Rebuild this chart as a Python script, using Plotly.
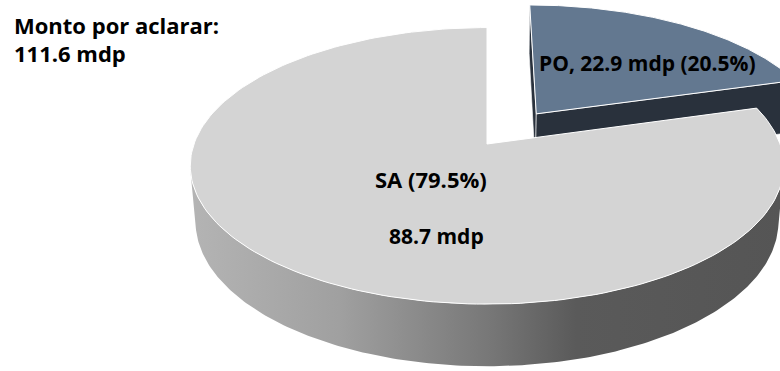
import numpy as np
import plotly.graph_objects as go

# ---- data ----
categories = ["PO", "SA"]
values = [22.9, 88.7]
unit = "mdp"
title_lines = ["Monto por aclarar:", "111.6 mdp"]

total = sum(values)
shares = [v / total for v in values]

# ---- 3D pie geometry (layout parameters) ----
W, H = 780, 371
CX, CY = 487.0, 144.0          # screen position of pie centre
PHI = np.radians(27.4)          # elevation
DIST = 5.62                     # camera distance (in radii)
FOC = 293.0 * DIST              # focal length in px
THICK = 0.216                   # thickness (radii)
EXPLODE = 0.29                  # explode distance for first slice
START = 90.0                    # first slice starts at 12 o'clock, clockwise

cphi, sphi = np.cos(PHI), np.sin(PHI)


def proj(X, Y, Z):
    X, Y, Z = np.asarray(X, float), np.asarray(Y, float), np.asarray(Z, float)
    vx = X
    vy = Y + DIST * cphi
    vz = Z - DIST * sphi
    zc = vy * cphi - vz * sphi
    yc = vy * sphi + vz * cphi
    return CX + FOC * vx / zc, CY - FOC * yc / zc


def arc(a0, a1, n=200):
    return np.radians(np.linspace(a0, a1, n))


# slice angle ranges (standard math degrees, going clockwise from 12 o'clock)
ranges = []
a = START
for s in shares:
    ranges.append((a - 360 * s, a))
    a -= 360 * s

fig = go.Figure()


def add_poly(xs, ys, color, line_color=None, lw=0, grad=None):
    kw = dict(x=np.append(xs, xs[0]), y=np.append(ys, ys[0]), mode="lines",
              fill="toself", hoverinfo="skip", showlegend=False,
              line=dict(width=lw, color=line_color or color))
    if grad is not None:
        kw["fillgradient"] = grad
    else:
        kw["fillcolor"] = color
    fig.add_trace(go.Scatter(**kw))


PO_TOP = "#637890"
PO_SIDE = "#29313c"
SA_TOP = "#d4d4d4"

# ---- PO (exploded) ----
lo, hi = ranges[0]
mid = np.radians((lo + hi) / 2)
ox, oy = EXPLODE * np.cos(mid), EXPLODE * np.sin(mid)
for ang in (hi, lo):
    t = np.radians(ang)
    X = [ox, ox + np.cos(t), ox + np.cos(t), ox]
    Y = [oy, oy + np.sin(t), oy + np.sin(t), oy]
    Z = [0, 0, -THICK, -THICK]
    sx, sy = proj(X, Y, Z)
    add_poly(sx, sy, PO_SIDE, "white", 0.6)
th = arc(lo, hi)
X = np.concatenate([[ox], ox + np.cos(th)])
Y = np.concatenate([[oy], oy + np.sin(th)])
sx, sy = proj(X, Y, np.zeros_like(X))
add_poly(sx, sy, PO_TOP, "white", 1)

# ---- SA ----
lo, hi = ranges[1]
hi += 360
alpha = np.degrees(np.arcsin(1.0 / (DIST * cphi)))
w0, w1 = 180 + alpha, min(360 - alpha, hi)
tw = arc(w0, w1)
tx, ty = proj(np.cos(tw), np.sin(tw), np.zeros_like(tw))
bx, by = proj(np.cos(tw), np.sin(tw), np.full_like(tw, -THICK))
wx = np.concatenate([tx, bx[::-1]])
wy = np.concatenate([ty, by[::-1]])
grad = dict(type="horizontal",
            colorscale=[[0.0, "#b4b4b4"], [0.25, "#a0a0a0"], [0.5, "#787878"],
                        [0.65, "#5a5a5a"], [1.0, "#555555"]])
add_poly(wx, wy, "#888888", grad=grad)

th = arc(90, 90 + 360 * shares[1])
X = np.concatenate([[0], np.cos(th)])
Y = np.concatenate([[0], np.sin(th)])
sx, sy = proj(X, Y, np.zeros_like(X))
add_poly(sx, sy, SA_TOP, "white", 1)

# ---- text ----
FONT = "Open Sans"
anns = [
    dict(x=12, y=24.5, text=f"<b>{title_lines[0]}</b>", xanchor="left", size=22),
    dict(x=12, y=52.5, text=f"<b>{title_lines[1]}</b>", xanchor="left", size=22),
    dict(x=647, y=62.5,
         text=f"<b>{categories[0]}, {values[0]:.1f} {unit} ({shares[0]*100:.1f}%)</b>",
         xanchor="center", size=21),
    dict(x=431, y=178.5, text=f"<b>{categories[1]} ({shares[1]*100:.1f}%)</b>",
         xanchor="center", size=22),
    dict(x=436, y=236, text=f"<b>{values[1]:.1f} {unit}</b>", xanchor="center",
         size=21),
]
for an in anns:
    size = an.pop("size")
    fig.add_annotation(xref="x", yref="y", yanchor="middle", showarrow=False,
                       font=dict(family=FONT, size=size, color="black"), **an)

fig.update_layout(
    width=W, height=H, margin=dict(l=0, r=0, t=0, b=0),
    paper_bgcolor="white", plot_bgcolor="white",
    xaxis=dict(range=[0, W], visible=False, fixedrange=True),
    yaxis=dict(range=[H, 0], visible=False, fixedrange=True),
    showlegend=False,
)
fig.write_html("out.html")
